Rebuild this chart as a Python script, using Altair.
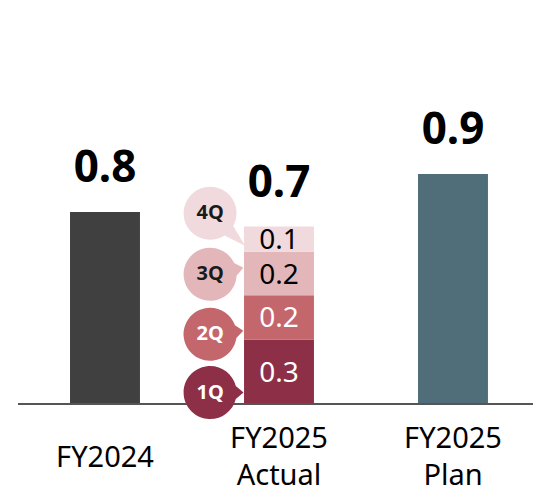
import math

import altair as alt
import pandas as pd

# ---- values ---------------------------------------------------------------
categories = ["FY2024", "FY2025 Actual", "FY2025 Plan"]
fy2024_result = 0.752
fy2025_plan = 0.901
quarters = ["1Q", "2Q", "3Q", "4Q"]
quarter_results = [0.253, 0.173, 0.170, 0.099]

# ---- styling --------------------------------------------------------------
FONT = "Noto Sans"
segment_names = ["FY2024", "1Q", "2Q", "3Q", "4Q", "Plan"]
segment_colors = ["#404040", "#8e2f48", "#c4676d", "#e3b7ba", "#f1dadd", "#506e79"]

# callout bubbles beside the quarterly stack (y in value units, tail in radius units)
callout_y = [0.045, 0.273, 0.508, 0.747]
tail_angle = [0, -6, -11, 43]
tail_length = [1.26, 1.26, 1.28, 1.80]
BUBBLE_SHIFT = -2.6  # bubble centre left of the bar, in radii
BUBBLE_RADIUS = 26.5  # px


def bubble_path(angle_deg, length, shift=BUBBLE_SHIFT, half_deg=14):
    """Circle of radius 1 with a pointed tail, as an SVG path for a symbol."""
    th = math.radians(angle_deg)
    d = math.radians(half_deg)

    def pt(x, y):
        return f"{x:.4f} {y:.4f}"

    p1 = pt(shift + math.cos(th - d), math.sin(th - d))
    tip = pt(shift + length * math.cos(th), length * math.sin(th))
    p2 = pt(shift + math.cos(th + d), math.sin(th + d))
    return f"M {p1} L {tip} L {p2} A 1 1 0 1 1 {p1} Z"


# ---- tables ---------------------------------------------------------------
bar_rows = [{"category": categories[0], "segment": "FY2024", "value": fy2024_result, "stack": 0}]
bar_rows += [
    {"category": categories[1], "segment": q, "value": v, "stack": i}
    for i, (q, v) in enumerate(zip(quarters, quarter_results))
]
bar_rows += [{"category": categories[2], "segment": "Plan", "value": fy2025_plan, "stack": 0}]
bars_df = pd.DataFrame(bar_rows)

callouts_df = pd.DataFrame(
    {
        "category": categories[1],
        "segment": quarters,
        "cy": callout_y,
        "idx": list(range(len(quarters))),
        "path": [bubble_path(a, l) for a, l in zip(tail_angle, tail_length)],
    }
)

# ---- scales ---------------------------------------------------------------
# single-line labels are centred; two-line labels are lifted half a line
label_baseline = {
    "condition": {"test": "indexof(datum.value, ' ') < 0", "value": "middle"},
    "value": "line-bottom",
}

x_enc = alt.X(
    "category:N",
    sort=categories,
    scale=alt.Scale(paddingInner=0.598, paddingOuter=0.2789, align=0.536),
    axis=alt.Axis(
        title=None,
        domain=False,
        ticks=False,
        grid=False,
        tickSize=0,
        labelPadding=53,
        labelBaseline=label_baseline,
        labelAngle=0,
        labelFont=FONT,
        labelFontSize=29,
        labelColor="#000000",
        labelLineHeight=37,
        labelExpr="split(datum.label, ' ')",
    ),
)
y_scale = alt.Scale(domain=[0, 1.5], nice=False, zero=True)
color_scale = alt.Scale(domain=segment_names, range=segment_colors)

base = alt.Chart(bars_df)

bars = base.mark_bar().encode(
    x=x_enc,
    y=alt.Y("value:Q", stack="zero", scale=y_scale, axis=None),
    color=alt.Color("segment:N", scale=color_scale, legend=None),
    order=alt.Order("stack:Q"),
)

baseline = (
    alt.Chart(pd.DataFrame({"v": [0]}))
    .mark_rule(color="#555555", strokeWidth=2)
    .encode(y=alt.Y("v:Q", axis=None))
)

segment_labels = (
    base.transform_filter(alt.datum.category == categories[1])
    .transform_stack(
        stack="value", groupby=["category"], as_=["y0", "y1"], sort=[alt.SortField("stack")]
    )
    .transform_calculate(mid="(datum.y0 + datum.y1) / 2")
    .mark_text(font=FONT, fontSize=28, baseline="middle", dy=2)
    .encode(
        x=alt.X("category:N", sort=categories),
        y=alt.Y("mid:Q", axis=None),
        text=alt.Text("value:Q", format=".1f"),
        color=alt.condition("datum.stack < 2", alt.value("#ffffff"), alt.value("#000000")),
    )
)

totals = (
    base.transform_aggregate(total="sum(value)", groupby=["category"])
    .mark_text(font=FONT, fontSize=44, fontWeight="bold", baseline="alphabetic", dy=-30, color="#000000")
    .encode(
        x=alt.X("category:N", sort=categories),
        y=alt.Y("total:Q", axis=None),
        text=alt.Text("total:Q", format=".1f"),
    )
)

callout_base = alt.Chart(callouts_df)

bubbles = callout_base.mark_point(
    filled=True, opacity=1, strokeWidth=0, size=(2 * BUBBLE_RADIUS) ** 2
).encode(
    x=alt.X("category:N", sort=categories),
    y=alt.Y("cy:Q", axis=None),
    shape=alt.Shape("path:N", scale=None),
    color=alt.Color("segment:N", scale=color_scale, legend=None),
)

bubble_text = callout_base.mark_text(
    font=FONT, fontSize=20, fontWeight="bold", baseline="middle", dx=BUBBLE_SHIFT * BUBBLE_RADIUS
).encode(
    x=alt.X("category:N", sort=categories),
    y=alt.Y("cy:Q", axis=None),
    text="segment:N",
    color=alt.condition("datum.idx < 2", alt.value("#ffffff"), alt.value("#1a1a1a")),
)

chart = (
    alt.layer(bars, baseline, bubbles, bubble_text, segment_labels, totals)
    .properties(
        width=515,
        height=383,
        padding={"left": 18, "right": 0, "top": 21, "bottom": 87},
        autosize=alt.AutoSizeParams(type="none"),
        view=alt.ViewBackground(stroke="transparent", strokeWidth=0, fill="transparent"),
    )
    .configure_view(stroke="transparent", strokeWidth=0)
    .configure_axis(grid=False)
    .configure(background="#ffffff")
)

chart.save("out.html", embed_options={"renderer": "svg", "actions": False})
